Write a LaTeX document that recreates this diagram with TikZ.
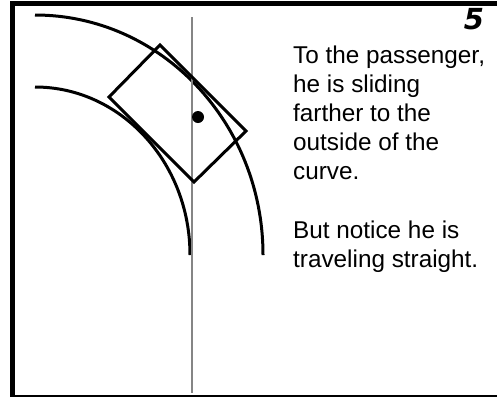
\documentclass[tikz,border=0pt]{standalone}
\usepackage{fontspec}
\setmainfont{Liberation Sans}
\newfontfamily\numfont{DejaVu Sans}
\begin{document}
\begin{tikzpicture}[x=1pt,y=-1pt,
  road/.style={line width=3pt,black},
  carbox/.style={line width=3pt,black,line join=miter},
  sightline/.style={line width=2.6pt,black!48},
  txt/.style={anchor=base west,inner sep=0pt,font=\fontsize{24.3}{28}\selectfont}]
\useasboundingbox (0,0) rectangle (497,397);
% frame
\fill[black] (9.5,1) rectangle (15,397);
\fill[black] (9.5,1) rectangle (497,6);
\fill[black] (9.5,395) rectangle (497,396.8);
% road edges
\draw[road] (35,15) arc[start angle=-90,end angle=0,x radius=228,y radius=240];
\draw[road] (35,87) arc[start angle=-90,end angle=0,x radius=155,y radius=168];
% straight line
\draw[sightline] (192,17) -- (192,393);
% car
\coordinate (ct) at (160,45);
\coordinate (cr) at (246,131);
\coordinate (cb) at (194,182);
\coordinate (cl) at (109,97);
\draw[carbox] (ct) -- (cr) -- (cb) -- (cl) -- cycle;
% passenger
\fill[black] (198,117) circle[radius=6pt];
% number
\node[inner sep=0pt,font=\numfont\bfseries\itshape\fontsize{29}{29}\selectfont] (num) at (474,19) {5};
% text
\node[txt] (t1) at (293,63) {To the passenger,};
\node[txt] (t2) at (293,92.2) {he is sliding};
\node[txt] (t3) at (293,121.4) {farther to the};
\node[txt] (t4) at (293,150.6) {outside of the};
\node[txt] (t5) at (293,179.8) {curve.};
\node[txt] (t6) at (293,238.2) {But notice he is};
\node[txt] (t7) at (293,267.4) {traveling straight.};
\end{tikzpicture}
\end{document}
